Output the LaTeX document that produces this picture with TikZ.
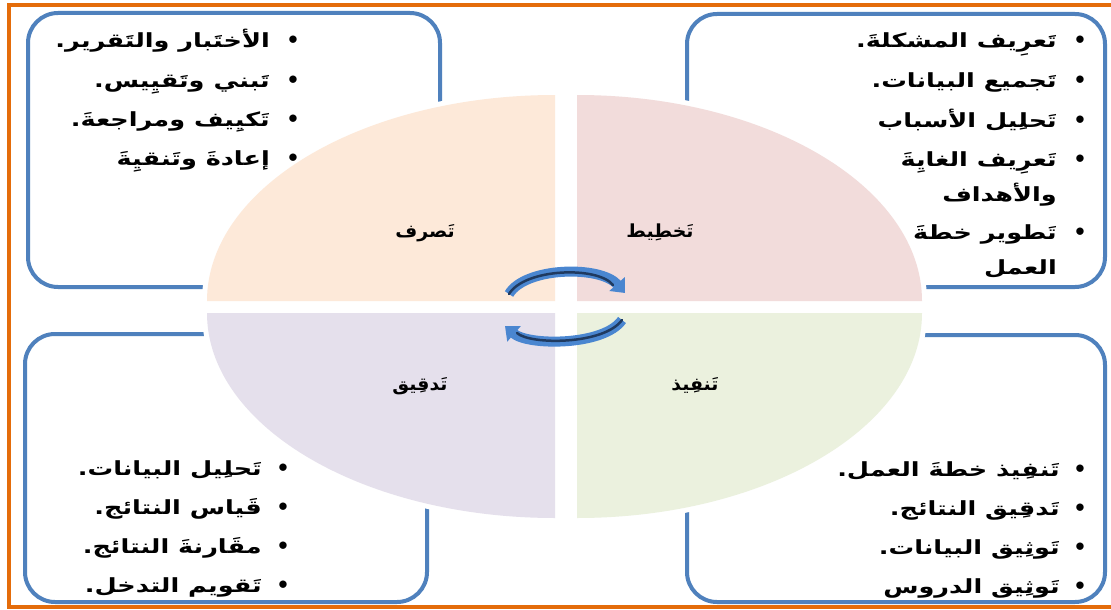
\documentclass[tikz,border=0pt]{standalone}
\usepackage{fontspec}
\usepackage{graphicx}
\usetikzlibrary{arrows.meta}
\TeXXeTstate=1
\newfontfamily\arabicfont[Script=Arabic]{DejaVu Sans}
\newcommand{\wtxt}[1]{\scalebox{1.31}[1]{\beginR #1\endR}}
\newcommand{\ltxt}[1]{\scalebox{1.05}[1]{\beginR #1\endR}}
\definecolor{frameor}{HTML}{E46C0A}
\definecolor{boxblue}{HTML}{4F81BD}
\definecolor{qtl}{HTML}{FDE9D9}
\definecolor{qtr}{HTML}{F2DCDB}
\definecolor{qbl}{HTML}{E5E0EC}
\definecolor{qbr}{HTML}{EBF1DE}
\definecolor{arrowdark}{HTML}{1F3A60}
\definecolor{arrowblue}{HTML}{4A86D0}
\tikzset{
  panel/.style={draw=boxblue, line width=4pt, rounded corners=30pt},
  itemtext/.style={anchor=base east, inner sep=0pt, font=\arabicfont\bfseries\fontsize{19.5}{22}\selectfont},
  bul/.style={anchor=base, inner sep=0pt, font=\arabicfont\bfseries\fontsize{21}{22}\selectfont},
  qlabel/.style={anchor=base, inner sep=0pt, font=\arabicfont\bfseries\fontsize{18}{20}\selectfont},
  quadwhite/.style={fill=white, draw=white, line width=10pt},
  cyc/.style={draw=arrowblue, line width=10pt, -{Triangle[width=20pt,length=12pt]}},
  cyccore/.style={draw=arrowdark, line width=2.5pt, line cap=round}
}
\begin{document}
\begin{tikzpicture}[x=1pt,y=-1pt]
\useasboundingbox (0,0) rectangle (1111,610);
\fill[white] (0,0) rectangle (1111,610);
% outer frame
\draw[frameor, line width=4pt] (9,5) rectangle (1125,607);
% panels
\draw[panel] (28,13) rectangle (440,287);
\draw[panel] (687,14) rectangle (1105,287);
\draw[panel] (25,334) rectangle (427,602);
\draw[panel] (687,335) rectangle (1105,602);
% quadrants: white halo first
\path[quadwhite] (555,301) -- (207,301) arc[start angle=180,end angle=90,x radius=348pt,y radius=206pt] -- cycle;
\path[quadwhite] (577,301) -- (577,95) arc[start angle=90,end angle=0,x radius=345pt,y radius=206pt] -- cycle;
\path[quadwhite] (555,313) -- (207,313) arc[start angle=180,end angle=270,x radius=348pt,y radius=205pt] -- cycle;
\path[quadwhite] (577,313) -- (922,313) arc[start angle=0,end angle=-90,x radius=345pt,y radius=205pt] -- cycle;
\fill[qtl] (555,301) -- (207,301) arc[start angle=180,end angle=90,x radius=348pt,y radius=206pt] -- cycle;
\fill[qtr] (577,301) -- (577,95) arc[start angle=90,end angle=0,x radius=345pt,y radius=206pt] -- cycle;
\fill[qbl] (555,313) -- (207,313) arc[start angle=180,end angle=270,x radius=348pt,y radius=205pt] -- cycle;
\fill[qbr] (577,313) -- (922,313) arc[start angle=0,end angle=-90,x radius=345pt,y radius=205pt] -- cycle;
% quadrant labels
\node[qlabel] (plan) at (660,237) {\ltxt{تَخطِيط}};
\node[qlabel] (act) at (425,237) {\ltxt{تَصرف}};
\node[qlabel] (do) at (695,390) {\ltxt{تَنفِيذ}};
\node[qlabel] (check) at (420,390) {\ltxt{تَدقِيق}};
% cycle arrows
\coordinate (a1s) at (509,294);
\coordinate (a1e) at (625,293);
\coordinate (a2s) at (622,320);
\coordinate (a2e) at (505,326);
\draw[cyc] (a1s) .. controls (525,267) and (600,265) .. (a1e);
\draw[cyccore] (a1s) .. controls (525,268) and (598,266) .. (613,285);
\draw[cyc] (a2s) .. controls (604,346) and (528,346) .. (a2e);
\draw[cyccore] (a2s) .. controls (604,345) and (530,345) .. (517,333);
% top-right list (plan)
\node[bul] (b11) at (1080,48) {•};
\node[itemtext] (t11) at (1057,48) {\wtxt{تَعرِيف المشكلةَ.}};
\node[bul] (b12) at (1080,88) {•};
\node[itemtext] (t12) at (1057,88) {\wtxt{تَجميع البيانات.}};
\node[bul] (b13) at (1080,127) {•};
\node[itemtext] (t13) at (1057,127) {\wtxt{تَحلِيل الأسباب}};
\node[bul] (b14) at (1080,166) {•};
\node[itemtext] (t14) at (1057,166) {\wtxt{تَعرِيف الغايِةَ}};
\node[itemtext] (t14b) at (1057,201) {\wtxt{والأهداف}};
\node[bul] (b15) at (1080,239) {•};
\node[itemtext] (t15) at (1057,239) {\wtxt{تَطوير خطةَ}};
\node[itemtext] (t15b) at (1057,274) {\wtxt{العمل}};
% top-left list (act)
\node[bul] (b21) at (293,48) {•};
\node[itemtext] (t21) at (270,48) {\wtxt{الأختَبار والتَقرير.}};
\node[bul] (b22) at (293,88) {•};
\node[itemtext] (t22) at (270,88) {\wtxt{تَبني وتَقيِيس.}};
\node[bul] (b23) at (293,126) {•};
\node[itemtext] (t23) at (270,126) {\wtxt{تَكيِيف ومراجعةَ.}};
\node[bul] (b24) at (293,165) {•};
\node[itemtext] (t24) at (270,165) {\wtxt{إعادةَ وتَنقيِةَ}};
% bottom-left list (check)
\node[bul] (b31) at (283,475) {•};
\node[itemtext] (t31) at (262,475) {\wtxt{تَحلِيل البيانات.}};
\node[bul] (b32) at (283,514) {•};
\node[itemtext] (t32) at (262,514) {\wtxt{قَياس النتائج.}};
\node[bul] (b33) at (283,553) {•};
\node[itemtext] (t33) at (262,553) {\wtxt{مقَارنةَ النتائج.}};
\node[bul] (b34) at (283,592) {•};
\node[itemtext] (t34) at (262,592) {\wtxt{تَقويم التدخل.}};
% bottom-right list (do)
\node[bul] (b41) at (1080,476) {•};
\node[itemtext] (t41) at (1060,476) {\wtxt{تَنفِيذ خطةَ العمل.}};
\node[bul] (b42) at (1080,515) {•};
\node[itemtext] (t42) at (1060,515) {\wtxt{تَدقِيق النتائج.}};
\node[bul] (b43) at (1080,554) {•};
\node[itemtext] (t43) at (1060,554) {\wtxt{تَوثِيق البيانات.}};
\node[bul] (b44) at (1080,593) {•};
\node[itemtext] (t44) at (1060,593) {\wtxt{تَوثِيق الدروس}};
\end{tikzpicture}
\end{document}
